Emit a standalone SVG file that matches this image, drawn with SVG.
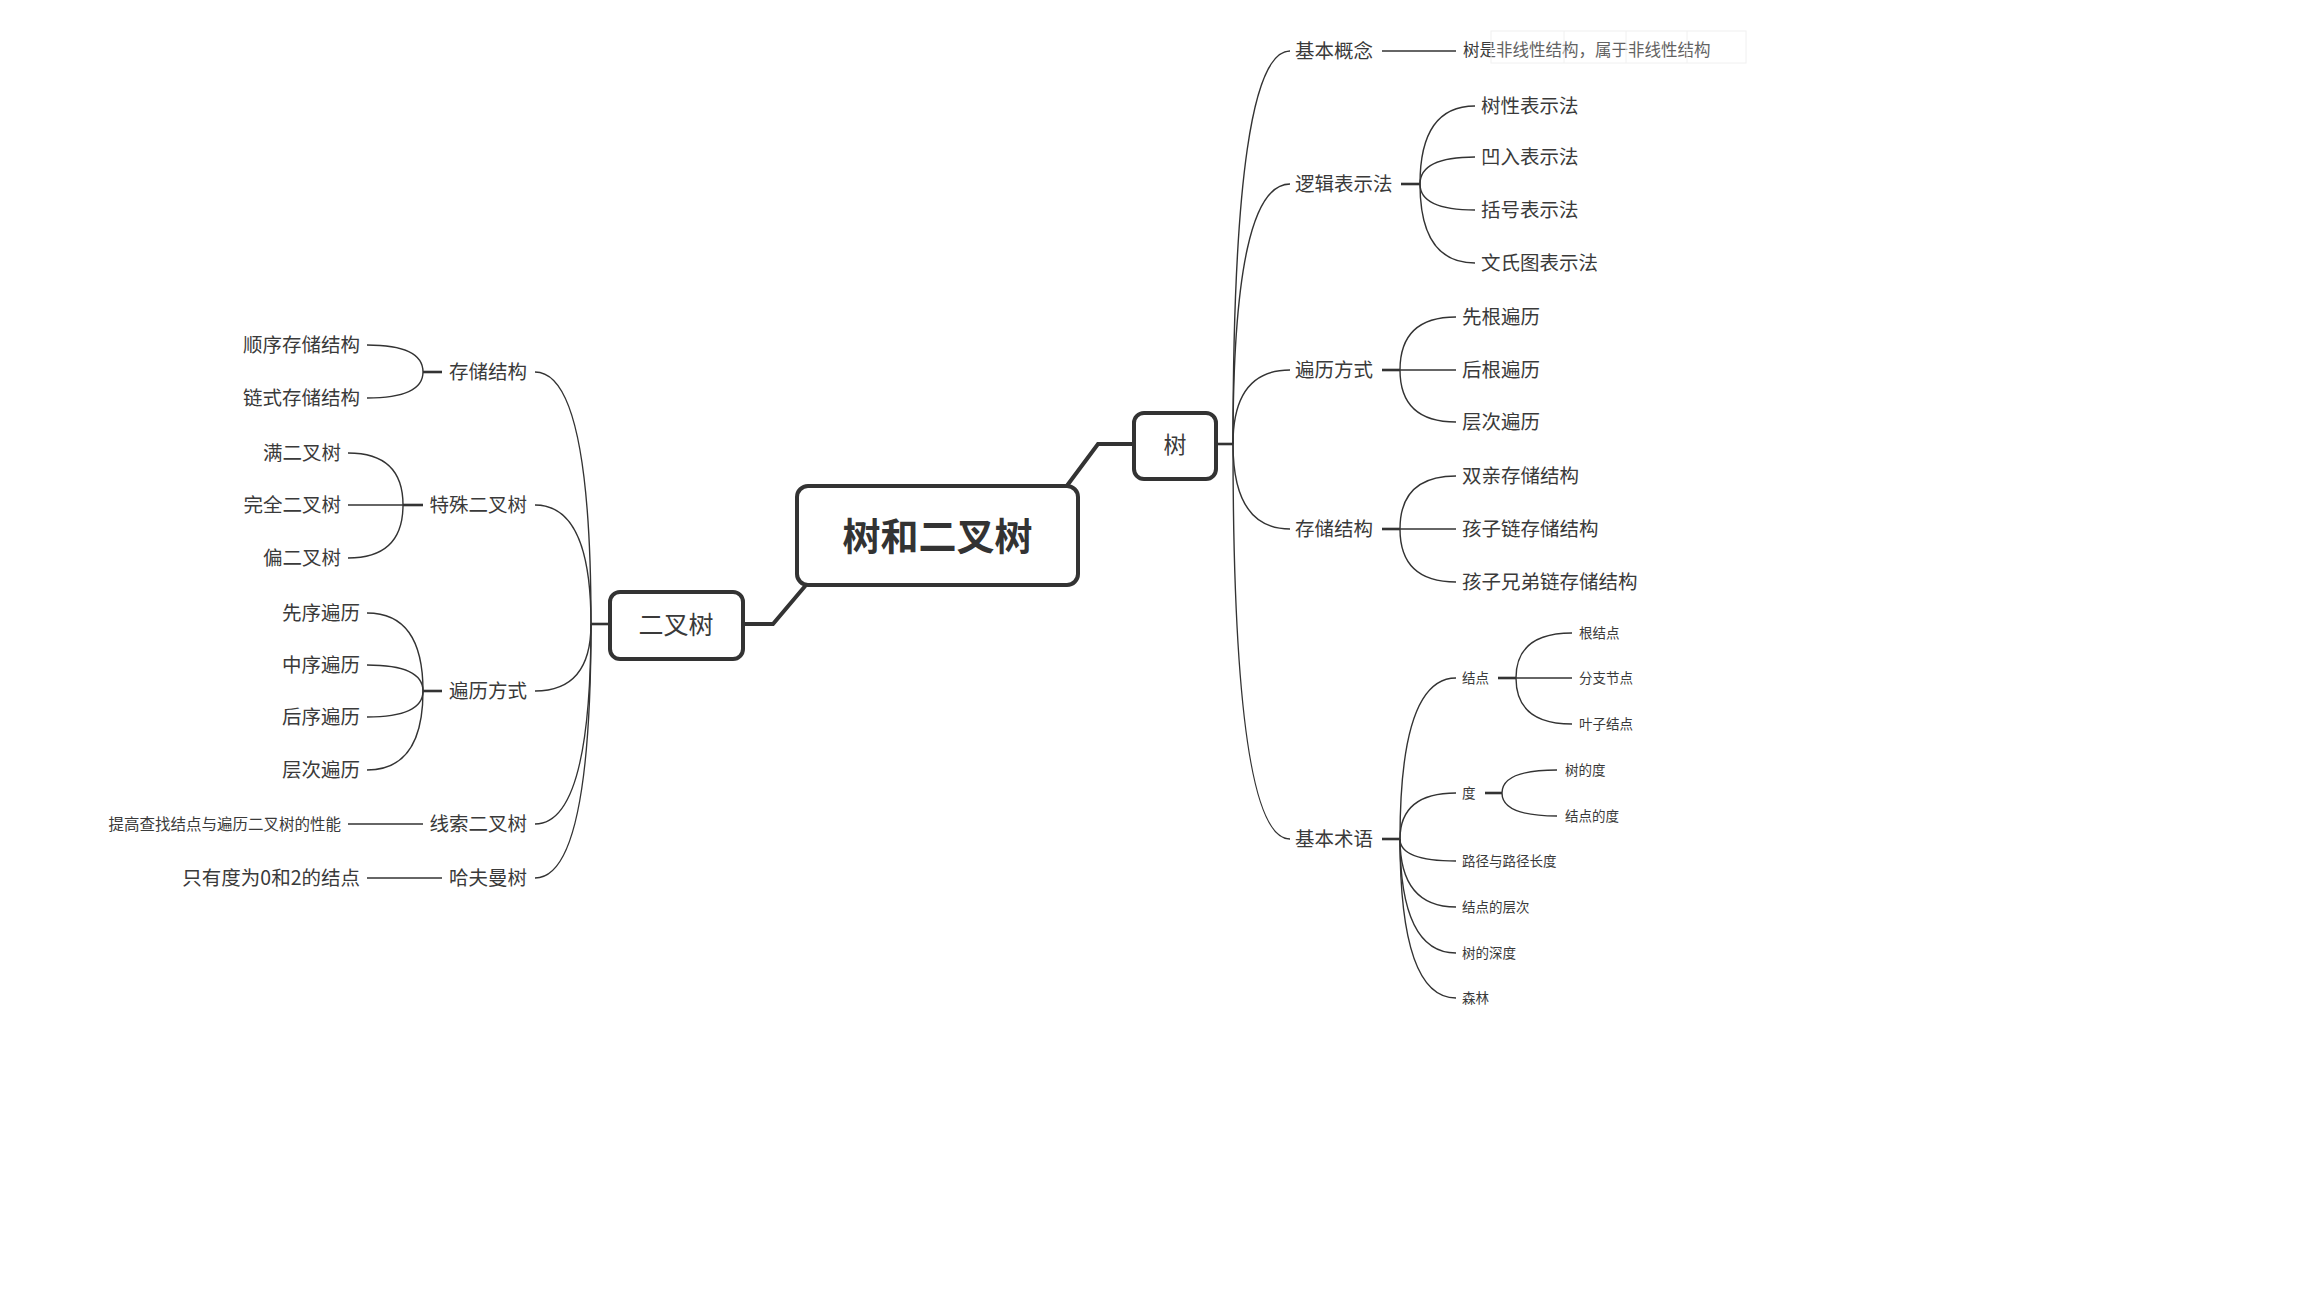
<svg xmlns="http://www.w3.org/2000/svg" width="2304" height="1296" viewBox="0 0 2304 1296">
<style>
text{font-family:"Noto Sans CJK SC","Noto Sans",sans-serif;fill:#3a3a3a;dominant-baseline:central}
.t20{font-size:19.5px}
.t17{font-size:16.5px}
.t16{font-size:15.5px}
.t14{font-size:13.5px}
.end{text-anchor:end}
.mid{text-anchor:middle}
.box{fill:#fff;stroke:#333;stroke-width:4}
.c{fill:none;stroke:#333;stroke-width:1.4}
.s{fill:none;stroke:#333;stroke-width:2.6}
.k{fill:none;stroke:#333;stroke-width:4;stroke-linejoin:miter}
</style>
<rect width="2304" height="1296" fill="#fff"/>
<g id="connectors">
<path class="k" d="M1066,487 L1098,444 L1134,444"/>
<path class="k" d="M743,624 L773,624 L806,585"/>
<path class="s" d="M1217,444 L1233,444"/>
<path class="s" d="M609,624 L591,624"/>
<path class="c" d="M1233,444 Q1233,51 1290,51"/>
<path class="c" d="M1233,444 Q1233,184 1290,184"/>
<path class="c" d="M1233,444 Q1233,370 1290,370"/>
<path class="c" d="M1233,444 Q1233,529 1290,529"/>
<path class="c" d="M1233,444 Q1233,839 1290,839"/>
<path class="c" d="M1382,51 L1456,51"/>
<path class="s" d="M1401,184 L1420,184"/>
<path class="c" d="M1420,184 Q1420,106 1475,106"/>
<path class="c" d="M1420,184 Q1420,157 1475,157"/>
<path class="c" d="M1420,184 Q1420,210 1475,210"/>
<path class="c" d="M1420,184 Q1420,263 1475,263"/>
<path class="s" d="M1382,370 L1400,370"/>
<path class="c" d="M1400,370 Q1400,317 1456,317"/>
<path class="c" d="M1400,370 L1456,370"/>
<path class="c" d="M1400,370 Q1400,422 1456,422"/>
<path class="s" d="M1382,529 L1400,529"/>
<path class="c" d="M1400,529 Q1400,476 1456,476"/>
<path class="c" d="M1400,529 L1456,529"/>
<path class="c" d="M1400,529 Q1400,582 1456,582"/>
<path class="s" d="M1382,839 L1400,839"/>
<path class="c" d="M1400,839 Q1400,678 1456,678"/>
<path class="c" d="M1400,839 Q1400,793 1456,793"/>
<path class="c" d="M1400,839 Q1400,861 1456,861"/>
<path class="c" d="M1400,839 Q1400,907 1456,907"/>
<path class="c" d="M1400,839 Q1400,953 1456,953"/>
<path class="c" d="M1400,839 Q1400,998 1456,998"/>
<path class="s" d="M1498,678 L1516,678"/>
<path class="c" d="M1516,678 Q1516,633 1572,633"/>
<path class="c" d="M1516,678 L1572,678"/>
<path class="c" d="M1516,678 Q1516,724 1572,724"/>
<path class="s" d="M1485,793 L1502,793"/>
<path class="c" d="M1502,793 Q1502,770 1557,770"/>
<path class="c" d="M1502,793 Q1502,816 1557,816"/>
<path class="c" d="M591,624 Q591,372 535,372"/>
<path class="c" d="M591,624 Q591,505 535,505"/>
<path class="c" d="M591,624 Q591,691 535,691"/>
<path class="c" d="M591,624 Q591,824 535,824"/>
<path class="c" d="M591,624 Q591,878 535,878"/>
<path class="s" d="M442,372 L423,372"/>
<path class="c" d="M423,372 Q423,345 367,345"/>
<path class="c" d="M423,372 Q423,398 367,398"/>
<path class="s" d="M423,505 L403,505"/>
<path class="c" d="M403,505 Q403,453 348,453"/>
<path class="c" d="M403,505 L348,505"/>
<path class="c" d="M403,505 Q403,558 348,558"/>
<path class="s" d="M442,691 L423,691"/>
<path class="c" d="M423,691 Q423,613 367,613"/>
<path class="c" d="M423,691 Q423,665 367,665"/>
<path class="c" d="M423,691 Q423,717 367,717"/>
<path class="c" d="M423,691 Q423,770 367,770"/>
<path class="c" d="M423,824 L348,824"/>
<path class="c" d="M442,878 L367,878"/>
</g>
<g id="root">
<rect class="box" x="797" y="486" width="281" height="99" rx="11"/>
<text class="mid" x="937.5" y="533" style="font-size:38px;font-weight:bold;fill:#333">树和二叉树</text>
</g>
<g id="tree">
<rect class="box" x="1134" y="413" width="82" height="66" rx="10"/>
<text class="mid" x="1175" y="443" style="font-size:23px">树</text>
</g>
<g id="btree">
<rect class="box" x="610" y="592" width="133" height="67" rx="10"/>
<text class="mid" x="676" y="623" style="font-size:25px">二叉树</text>
</g>
<g id="r-concept"><text class="t20" x="1295" y="49">基本概念</text></g>
<g id="r-concept-leaf"><text class="t17" x="1463" y="49">树是非线性结构，属于非线性结构</text></g>
<g id="toolbar-overlay" fill="none" stroke="#f0f0f0" stroke-width="1">
<rect x="1491" y="31" width="255" height="32" fill="#ffffff" fill-opacity="0.2"/>
<path d="M1564,31 V63 M1626,31 V63 M1687,31 V63"/>
</g>
<g id="r-logic"><text class="t20" x="1295" y="182">逻辑表示法</text></g>
<g id="r-logic-1"><text class="t20" x="1481" y="104">树性表示法</text></g>
<g id="r-logic-2"><text class="t20" x="1481" y="155">凹入表示法</text></g>
<g id="r-logic-3"><text class="t20" x="1481" y="208">括号表示法</text></g>
<g id="r-logic-4"><text class="t20" x="1481" y="261">文氏图表示法</text></g>
<g id="r-trav"><text class="t20" x="1295" y="368">遍历方式</text></g>
<g id="r-trav-1"><text class="t20" x="1462" y="315">先根遍历</text></g>
<g id="r-trav-2"><text class="t20" x="1462" y="368">后根遍历</text></g>
<g id="r-trav-3"><text class="t20" x="1462" y="420">层次遍历</text></g>
<g id="r-store"><text class="t20" x="1295" y="527">存储结构</text></g>
<g id="r-store-1"><text class="t20" x="1462" y="474">双亲存储结构</text></g>
<g id="r-store-2"><text class="t20" x="1462" y="527">孩子链存储结构</text></g>
<g id="r-store-3"><text class="t20" x="1462" y="580">孩子兄弟链存储结构</text></g>
<g id="r-term"><text class="t20" x="1295" y="837">基本术语</text></g>
<g id="r-term-node"><text class="t14" x="1462" y="677">结点</text></g>
<g id="r-term-node-1"><text class="t14" x="1579" y="632">根结点</text></g>
<g id="r-term-node-2"><text class="t14" x="1579" y="677">分支节点</text></g>
<g id="r-term-node-3"><text class="t14" x="1579" y="723">叶子结点</text></g>
<g id="r-term-deg"><text class="t14" x="1462" y="792">度</text></g>
<g id="r-term-deg-1"><text class="t14" x="1565" y="769">树的度</text></g>
<g id="r-term-deg-2"><text class="t14" x="1565" y="815">结点的度</text></g>
<g id="r-term-path"><text class="t14" x="1462" y="860">路径与路径长度</text></g>
<g id="r-term-level"><text class="t14" x="1462" y="906">结点的层次</text></g>
<g id="r-term-depth"><text class="t14" x="1462" y="952">树的深度</text></g>
<g id="r-term-forest"><text class="t14" x="1462" y="997">森林</text></g>
<g id="l-store"><text class="t20 end" x="527" y="370">存储结构</text></g>
<g id="l-store-1"><text class="t20 end" x="360" y="343">顺序存储结构</text></g>
<g id="l-store-2"><text class="t20 end" x="360" y="396">链式存储结构</text></g>
<g id="l-special"><text class="t20 end" x="527" y="503">特殊二叉树</text></g>
<g id="l-special-1"><text class="t20 end" x="341" y="451">满二叉树</text></g>
<g id="l-special-2"><text class="t20 end" x="341" y="503">完全二叉树</text></g>
<g id="l-special-3"><text class="t20 end" x="341" y="556">偏二叉树</text></g>
<g id="l-trav"><text class="t20 end" x="527" y="689">遍历方式</text></g>
<g id="l-trav-1"><text class="t20 end" x="360" y="611">先序遍历</text></g>
<g id="l-trav-2"><text class="t20 end" x="360" y="663">中序遍历</text></g>
<g id="l-trav-3"><text class="t20 end" x="360" y="715">后序遍历</text></g>
<g id="l-trav-4"><text class="t20 end" x="360" y="768">层次遍历</text></g>
<g id="l-thread"><text class="t20 end" x="527" y="822">线索二叉树</text></g>
<g id="l-thread-leaf"><text class="t16 end" x="341" y="823">提高查找结点与遍历二叉树的性能</text></g>
<g id="l-huff"><text class="t20 end" x="527" y="876">哈夫曼树</text></g>
<g id="l-huff-leaf"><text class="t20 end" x="360" y="876">只有度为0和2的结点</text></g>
</svg>
